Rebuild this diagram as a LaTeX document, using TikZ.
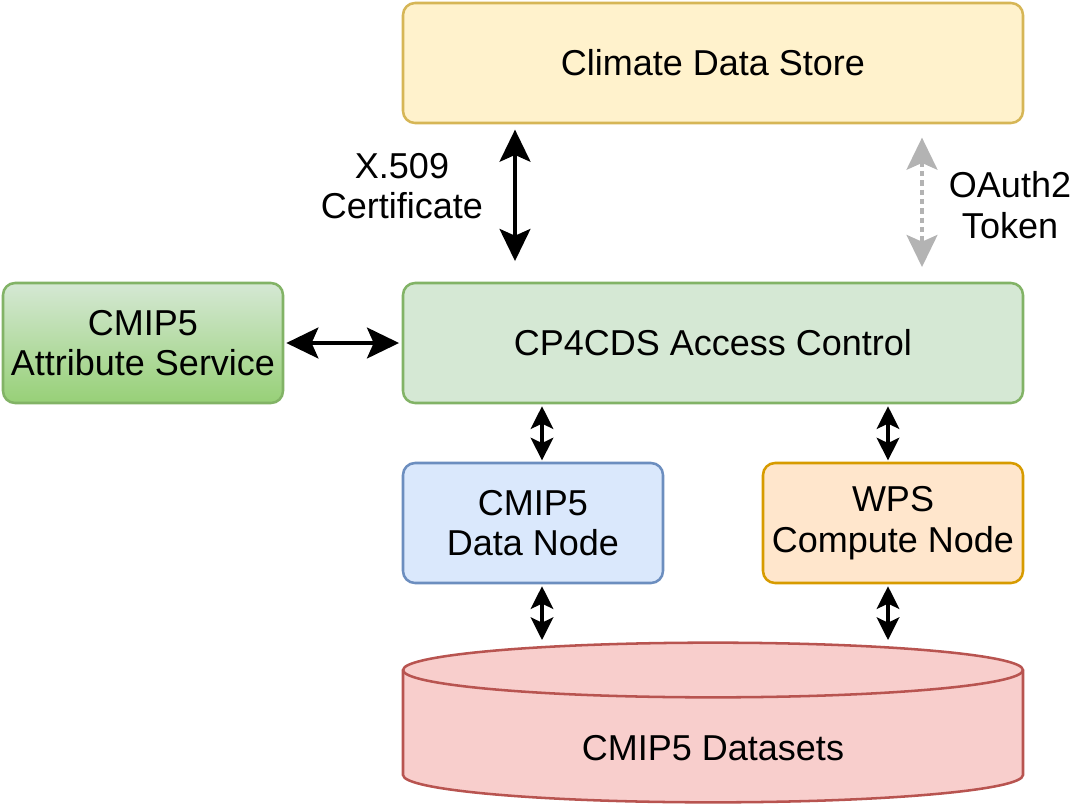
\documentclass[tikz,border=0pt]{standalone}
\usepackage{fontspec}
\setmainfont{Liberation Sans}
\usetikzlibrary{arrows.meta,calc}
\definecolor{cdsfill}{HTML}{FFF2CC}
\definecolor{cdsline}{HTML}{D6B656}
\definecolor{grfill}{HTML}{D5E8D4}
\definecolor{grline}{HTML}{82B366}
\definecolor{grdark}{HTML}{97D077}
\definecolor{blfill}{HTML}{DAE8FC}
\definecolor{blline}{HTML}{6C8EBF}
\definecolor{orfill}{HTML}{FFE6CC}
\definecolor{orline}{HTML}{D79B00}
\definecolor{rdfill}{HTML}{F8CECC}
\definecolor{rdline}{HTML}{B85450}
\definecolor{oagray}{HTML}{B3B3B3}
\tikzset{
  txt/.style={font=\fontsize{27}{30.5}\selectfont, align=center, inner sep=0pt},
  box/.style={txt, rectangle, rounded corners=9pt, line width=1.9pt},
  bigarrow/.style={line width=3.4pt, arrows={Stealth[length=24pt,width=23pt,inset=5pt]-Stealth[length=24pt,width=23pt,inset=5pt]}},
  smallarrow/.style={line width=2.3pt, arrows={Stealth[length=17pt,width=17pt,inset=4pt]-Stealth[length=17pt,width=17pt,inset=4pt]}},
  oaarrow/.style={oagray, line width=3.4pt, dash pattern=on 4pt off 3pt, arrows={Stealth[length=24pt,width=23pt,inset=5pt]-Stealth[length=24pt,width=23pt,inset=5pt]}},
}
\begin{document}
\begin{tikzpicture}[x=0.75pt,y=-0.75pt]
\useasboundingbox (0,0) rectangle (1072,804);
% boxes
\node[box, fill=cdsfill, draw=cdsline, minimum width=465pt, minimum height=90pt] (cds) at (713,63) {Climate Data Store};
\node[box, fill=grfill, draw=grline, minimum width=465pt, minimum height=90pt] (ac) at (713,343) {CP4CDS Access Control};
\node[box, top color=grfill, bottom color=grdark, draw=grline, minimum width=210pt, minimum height=90pt] (attr) at (143,343) {CMIP5\\Attribute Service};
\node[box, fill=blfill, draw=blline, minimum width=195pt, minimum height=90pt] (dn) at (533,523) {CMIP5\\Data Node};
\node[box, fill=orfill, draw=orline, minimum width=195pt, minimum height=90pt] (wps) at (893,523) {WPS\\Compute Node};
% cylinder
\filldraw[fill=rdfill, draw=rdline, line width=1.9pt]
  (403,670) -- (403,775) arc[start angle=180, end angle=360, x radius=232.5pt, y radius=20.5pt]
  -- (1023,670) arc[start angle=0, end angle=180, x radius=232.5pt, y radius=20.5pt] -- cycle;
\draw[rdline, line width=1.9pt] (403,670) arc[start angle=180, end angle=360, x radius=232.5pt, y radius=20.5pt];
\node[txt] (ds) at (713,748) {CMIP5 Datasets};
\coordinate (dsA) at (542,640);
\coordinate (dsB) at (888,640);
\coordinate (xA) at (515,0);
\coordinate (xB) at (922,0);
% connectors
\draw[bigarrow, shorten <=4pt, shorten >=15.5pt] (cds.south -| xA) -- (ac.north -| xA);
\draw[oaarrow, shorten <=10pt, shorten >=11pt] (cds.south -| xB) -- (ac.north -| xB);
\draw[bigarrow, shorten <=1.5pt, shorten >=2pt] (attr.east) -- (ac.west);
\draw[smallarrow, shorten <=1.5pt, shorten >=1pt] (ac.south -| dsA) -- (dn.north -| dsA);
\draw[smallarrow, shorten <=1.5pt, shorten >=1pt] (ac.south -| dsB) -- (wps.north -| dsB);
\draw[smallarrow, shorten <=1.5pt] (dn.south -| dsA) -- (dsA);
\draw[smallarrow, shorten <=1.5pt] (wps.south -| dsB) -- (dsB);
% labels
\node[txt] (lx) at (402,186) {X.509\\Certificate};
\node[txt] (lo) at (1010,205) {OAuth2\\Token};
\end{tikzpicture}
\end{document}
